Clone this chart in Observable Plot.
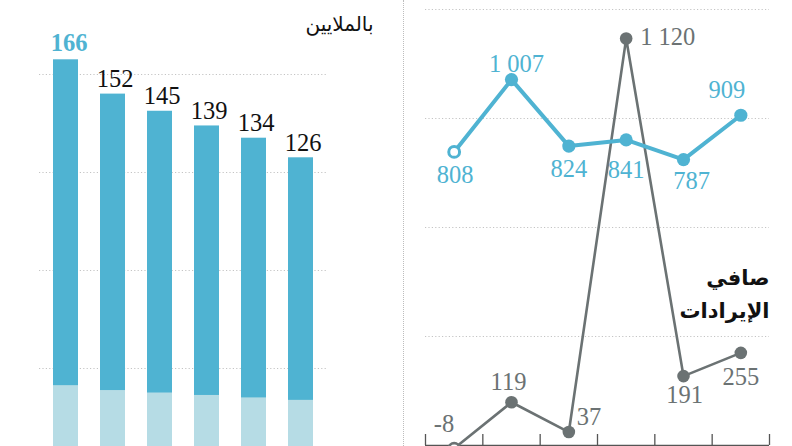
<!DOCTYPE html>
<html>
<head>
<meta charset="utf-8">
<script src="https://cdn.jsdelivr.net/npm/d3@7"></script>
<script src="https://cdn.jsdelivr.net/npm/@observablehq/plot@0.6"></script>
<style>
  body { margin: 0; background: #fff; }
  #wrap { position: relative; width: 792px; height: 446px; overflow: hidden; background: #fff; }
  #left { position: absolute; left: 0; top: 0; }
  #right { position: absolute; left: 400px; top: 0; }
  #divider { position: absolute; left: 403px; top: 0; width: 0; height: 446px; border-left: 1px dotted #bdbdbd; }
</style>
</head>
<body>
<div id="wrap">
  <div id="left"></div>
  <div id="divider"></div>
  <div id="right"></div>
</div>
<script>
// ---- data ----
const periods = ["P1", "P2", "P3", "P4", "P5", "P6"];
const totalValues = [166, 152, 145, 139, 134, 126];   // millions (bars)
const lowerValues = [33, 31, 30, 29, 28, 27];          // light lower segment
const revenueValues = [808, 1007, 824, 841, 787, 909]; // blue line
const netIncomeValues = [-8, 119, 37, 1120, 191, 255]; // grey line
const leftGrid = [40, 80, 120, 160];
const rightGrid = [300, 600, 900, 1200];
const unitLabel = "بالملايين";
const seriesLabel = "صافي\nالإيرادات";

// ---- styles ----
const BLUE = "#4fb3d2";
const LIGHT = "#b6dce5";
const GREY = "#6b7273";
const GRID = "#c4c4c4";
const SERIF = "'Liberation Serif', 'DejaVu Serif', serif";
const ARABIC = "'DejaVu Sans', 'Noto Sans', sans-serif";
const NUM_SIZE = 24.5;

const fmt = v => {
  const s = d3.format(",")(v);
  return s.replace(/,/g, " ").replace("\u2212", "-");
};

// ---- left: bars ----
const barRows = periods.map((p, i) => ({period: p, total: totalValues[i], lower: lowerValues[i], i}));
const left = Plot.plot({
  width: 400,
  height: 446,
  marginLeft: 39,
  marginRight: 72,
  marginTop: 0,
  marginBottom: 0,
  x: {domain: periods, paddingInner: 0.458, paddingOuter: 0.24, axis: null},
  y: {domain: [0, 160], range: [466, 74], axis: null},
  marks: [
    Plot.gridY(leftGrid, {stroke: GRID, strokeOpacity: 1, strokeDasharray: "1.2,2.2"}),
    Plot.barY(barRows, {x: "period", y: "total", fill: BLUE}),
    Plot.barY(barRows, {x: "period", y: "lower", fill: LIGHT}),
    Plot.text(barRows.filter(d => d.i === 0), {x: "period", y: "total", text: d => fmt(d.total), lineAnchor: "bottom", dy: -9, dx: 3, fill: BLUE, fontWeight: "bold", fontSize: NUM_SIZE, fontFamily: SERIF}),
    Plot.text(barRows.filter(d => d.i > 0), {x: "period", y: "total", text: d => fmt(d.total), lineAnchor: "bottom", dy: -7, dx: 2, fill: "#111", fontSize: NUM_SIZE, fontFamily: SERIF}),
    Plot.text([unitLabel], {frameAnchor: "top-right", text: d => d, textAnchor: "end", lineAnchor: "bottom", dx: 45, dy: 30, fontSize: 20, fill: "#111", fontFamily: ARABIC})
  ]
});
document.getElementById("left").appendChild(left);

// ---- right: lines ----
const boundaries = d3.range(periods.length + 1).map(i => i - 0.5);
const rev = revenueValues.map((v, i) => ({i, v}));
const net = netIncomeValues.map((v, i) => ({i, v}));

// label placement per point: [textAnchor, dx, dy]
const revPlace = [["middle", 1, 31], ["middle", 5, -8], ["middle", 0, 31], ["middle", 0, 38], ["middle", 8, 29], ["middle", -14, -17]];
const netPlace = [["end", 0, -16], ["middle", -3, -12], ["start", 8, -7], ["start", 14, 6], ["middle", 1, 27], ["middle", 0, 32]];

function labelMarks(rows, place, color) {
  return rows.map((d, k) => Plot.text([d], {
    x: "i", y: "v", text: r => fmt(r.v),
    textAnchor: place[k][0], dx: place[k][1], dy: place[k][2],
    lineAnchor: "bottom", fill: color, fontSize: NUM_SIZE, fontFamily: SERIF
  }));
}

const right = Plot.plot({
  width: 392,
  height: 446,
  marginLeft: 25,
  marginRight: 23,
  marginTop: 0,
  marginBottom: 1,
  x: {type: "linear", domain: [-0.5, periods.length - 0.5], axis: null},
  y: {domain: [0, 1200], range: [445, 9], axis: null},
  marks: [
    Plot.gridY(rightGrid, {stroke: GRID, strokeOpacity: 1, strokeDasharray: "1.2,2.2"}),
    Plot.ruleY([0], {stroke: "#555", strokeWidth: 1.3}),
    Plot.ruleX(boundaries, {x: d => d, insetTop: 434, stroke: "#555", strokeWidth: 1.3}),
    Plot.text([seriesLabel], {frameAnchor: "top-right", text: d => d, textAnchor: "end", lineAnchor: "bottom", dy: 317, lineHeight: 1.55, fontSize: 21, fontWeight: "bold", fill: "#111", fontFamily: ARABIC}),
    // grey series
    Plot.line(net, {x: "i", y: "v", stroke: GREY, strokeWidth: 2.6}),
    Plot.dot(net.filter(d => d.i > 0), {x: "i", y: "v", r: 6.3, fill: GREY, stroke: "none"}),
    Plot.dot(net.filter(d => d.i === 0), {x: "i", y: "v", r: 5.3, fill: "#fff", stroke: GREY, strokeWidth: 2.8}),
    ...labelMarks(net, netPlace, GREY),
    // blue series
    Plot.line(rev, {x: "i", y: "v", stroke: BLUE, strokeWidth: 4}),
    Plot.dot(rev.filter(d => d.i > 0), {x: "i", y: "v", r: 6.6, fill: BLUE, stroke: "none"}),
    Plot.dot(rev.filter(d => d.i === 0), {x: "i", y: "v", r: 5.4, fill: "#fff", stroke: BLUE, strokeWidth: 3}),
    ...labelMarks(rev, revPlace, BLUE)
  ]
});
document.getElementById("right").appendChild(right);
</script>
</body>
</html>
